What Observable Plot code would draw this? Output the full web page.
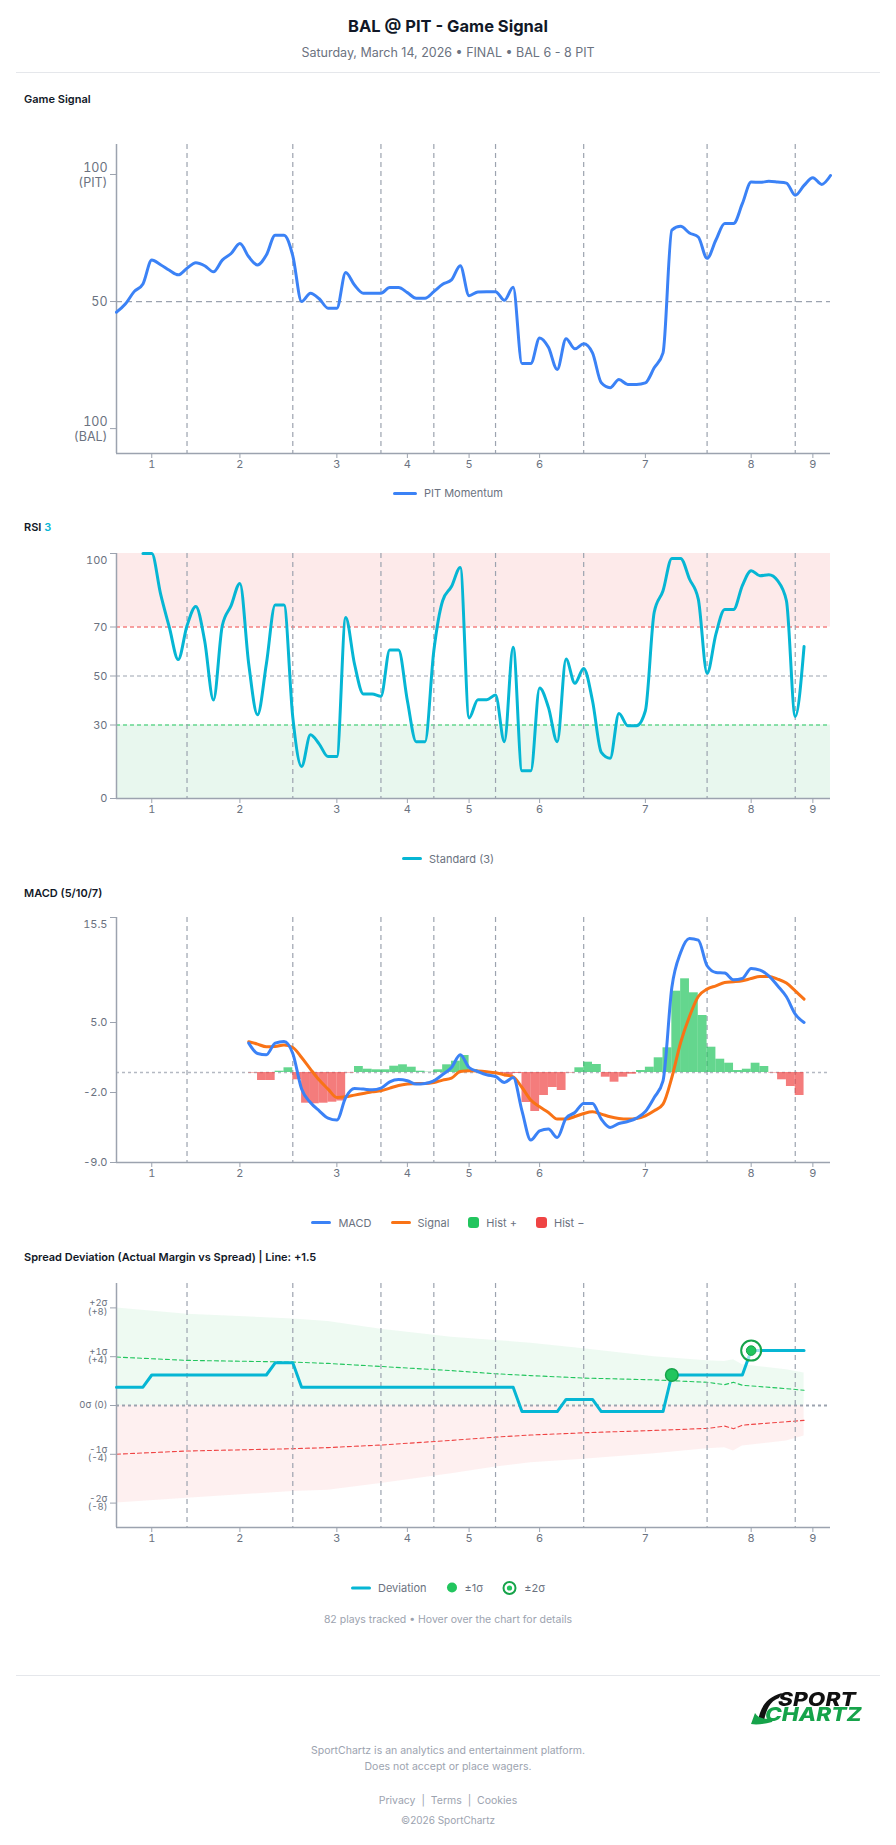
<!DOCTYPE html>
<html><head><meta charset="utf-8">
<script src="https://cdn.jsdelivr.net/npm/d3@7"></script>
<script src="https://cdn.jsdelivr.net/npm/@observablehq/plot@0.6"></script>
<style>
html,body{margin:0;padding:0;background:#fff;}
#page{position:relative;width:896px;height:1845px;overflow:hidden;font-family:Inter,"Open Sans",sans-serif;}
.t{position:absolute;white-space:nowrap;transform:translateY(-50%);}
.legend{position:absolute;left:0;width:896px;display:flex;justify-content:center;align-items:center;gap:19px;font-size:11px;color:#6b7280;transform:translateY(-50%);}
.item{display:flex;align-items:center;gap:7px;}
.sw{display:inline-block;height:3px;border-radius:2px;}
.sq{display:inline-block;width:11px;height:11px;border-radius:3px;}
.logo{position:absolute;white-space:pre;font-style:italic;font-weight:800;font-size:19px;line-height:15px;transform-origin:0 0;
  background:linear-gradient(#111 50%, #16a34a 50%);-webkit-background-clip:text;background-clip:text;color:transparent;-webkit-text-fill-color:transparent;}
</style></head>
<body><div id="page"></div>
<script>
// ---------- data ----------
const title = "BAL @ PIT - Game Signal";
const subtitle = "Saturday, March 14, 2026 \u2022 FINAL \u2022 BAL 6 - 8 PIT";
const innings = ["1","2","3","4","5","6","7","8","9"];
const inningPlays = [4,14,25,33,40,48,60,72,79];
const dividerPlays = [8,20,30,36,43,53,67,77];

const momentum = [45.8,49.0,53.9,56.9,66.3,64.5,62.3,60.5,63.1,65.3,
  64.1,61.7,66.3,68.9,72.8,67.6,64.4,68.3,76.1,76.1,
  68.0,50.0,53.3,51.1,47.4,47.4,61.4,56.5,53.3,53.3,
  53.3,55.5,55.5,53.5,51.3,51.3,53.9,56.8,58.5,64.1,
  52.3,53.8,53.9,53.9,50.5,55.6,25.6,25.6,35.7,32.0,
  23.3,35.4,31.4,33.4,29.8,18.0,16.1,19.3,17.4,17.4,
  18.0,23.9,29.8,78.1,79.6,77.0,75.4,67.0,74.2,80.7,
  80.7,88.5,97.0,96.9,97.3,97.0,96.6,91.8,95.7,98.7,
  96.1,99.6];
const signalTicks = [0,50,100];
const signalTickLabels = ["100\n(BAL)","50","100\n(PIT)"];

const rsi = [null,null,null,100,100,83.5,69.8,56.7,70.5,78.4,
  64.4,40.2,70.5,78.7,87.8,54.9,34.2,54.9,79.0,79.0,
  33.1,13.1,26.0,22.2,17.1,17.1,73.9,54.9,42.7,42.7,
  41.7,60.6,60.6,39.9,23.2,23.2,60.3,80.7,86.5,94.3,
  32.9,40.3,40.3,42.2,23.2,61.7,11.3,11.3,45.1,37.2,
  23.2,56.9,47.0,53.1,39.9,18.8,16.4,34.7,29.7,29.7,
  35.8,76.0,84.8,98.0,98.0,89.6,81.4,51.1,67.1,77.1,
  77.1,86.9,93.0,90.9,91.3,88.9,80.7,33.5,62.0];
const rsiTicks = [0,30,50,70,100];
const rsiTickLabels = ["0","30","50","70","100"];

const macd = [null,null,null,null,null,null,null,null,null,null,
  null,null,null,null,null,2.94,1.9,1.77,2.94,3.1,
  1.9,-1.66,-3.0,-3.83,-4.56,-4.76,-2.5,-1.6,-1.66,-1.73,
  -1.56,-0.93,-0.7,-0.83,-1.16,-1.1,-0.83,-0.2,0.5,1.77,
  0.5,0.1,-0.23,-0.4,-1.0,-0.5,-3.83,-6.76,-5.83,-5.66,
  -6.5,-4.56,-4.0,-3.1,-3.1,-4.66,-5.5,-5.1,-4.9,-4.56,
  -3.9,-2.5,-0.83,8.5,12.0,13.4,13.24,10.67,10.0,9.94,
  9.27,9.4,10.4,10.24,9.67,8.67,7.57,5.84,5.0];
const macdSignal = [null,null,null,null,null,null,null,null,null,null,
  null,null,null,null,null,3.07,2.84,2.57,2.6,2.74,
  2.5,1.5,0.34,-0.76,-1.66,-2.5,-2.43,-2.26,-2.1,-1.93,
  -1.83,-1.56,-1.3,-1.16,-1.1,-1.1,-1.0,-0.76,-0.56,0.1,
  0.17,0.14,0.07,-0.03,-0.23,-0.43,-1.5,-2.76,-3.43,-4.0,
  -4.66,-4.66,-4.4,-4.1,-3.93,-4.16,-4.43,-4.6,-4.66,-4.6,
  -4.33,-3.83,-3.16,-0.5,3.0,5.6,7.6,8.34,8.67,9.0,
  9.07,9.17,9.4,9.6,9.6,9.34,8.94,8.17,7.34];
const macdHist = [null,null,null,null,null,null,null,null,null,null,
  null,null,null,null,null,-0.05,-0.8,-0.8,0.13,0.47,
  -0.73,-3.07,-3.13,-3.07,-2.97,-2.85,-0.05,0.6,0.33,0.27,
  0.27,0.63,0.77,0.53,0.13,0.03,0.27,0.77,1.13,1.7,
  0.3,0.0,-0.05,-0.1,-0.45,-0.1,-3.0,-3.9,-2.3,-1.5,
  -1.8,-0.05,0.47,1.03,0.8,-0.47,-0.97,-0.47,-0.17,0.2,
  0.53,1.47,2.47,8.13,9.37,7.97,5.7,2.53,1.33,0.93,
  0.2,0.33,0.93,0.6,-0.05,-0.73,-1.4,-2.3];
const macdTicks = [-9,-2,5,15.5];
const macdTickLabels = ["-9.0","-2.0","5.0","15.5"];

const deviation = [1.5,1.5,1.5,1.5,2.5,2.5,2.5,2.5,2.5,2.5,
  2.5,2.5,2.5,2.5,2.5,2.5,2.5,2.5,3.5,3.5,
  3.5,1.5,1.5,1.5,1.5,1.5,1.5,1.5,1.5,1.5,
  1.5,1.5,1.5,1.5,1.5,1.5,1.5,1.5,1.5,1.5,
  1.5,1.5,1.5,1.5,1.5,1.5,-0.5,-0.5,-0.5,-0.5,
  -0.5,0.5,0.5,0.5,0.5,-0.5,-0.5,-0.5,-0.5,-0.5,
  -0.5,-0.5,-0.5,2.5,2.5,2.5,2.5,2.5,2.5,2.5,
  2.5,2.5,4.5,4.5,4.5,4.5,4.5,4.5,4.5];
const sigma1Plays = [63];
const sigma2Plays = [72];
const bandPlays = [0,8,20,24,30,38,43,47,53,61,67,69,70,71,76,78];
const upper2 = [8.0,7.48,7.1,6.88,6.25,5.6,5.33,5.11,4.65,4.0,3.67,3.6,3.75,3.35,2.94,2.66];
const lower2 = [-8.0,-7.6,-7.05,-6.94,-6.4,-5.6,-5.04,-4.69,-4.41,-3.95,-3.54,-3.46,-3.73,-3.32,-2.91,-2.5];
const upper1 = [3.97,3.7,3.56,3.45,3.2,2.86,2.6,2.45,2.25,2.1,1.9,1.71,1.9,1.66,1.38,1.25];
const lower1 = [-3.99,-3.73,-3.54,-3.45,-3.24,-2.86,-2.59,-2.42,-2.24,-2.04,-1.88,-1.69,-1.9,-1.61,-1.33,-1.22];
const devTicks = [-8,-4,0,4,8];
const devTickLabels = ["-2\u03c3\n(-8)","-1\u03c3\n(-4)","0\u03c3 (0)","+1\u03c3\n(+4)","+2\u03c3\n(+8)"];
const playsTracked = 82;

// ---------- helpers ----------
const FONT = 'Inter, "Open Sans", sans-serif';
const TXT = "#6b7280", GRID = "#9ca3af", DARK = "#111827";
const BLUE = "#3b82f6", CYAN = "#06b6d4", ORANGE = "#f97316", GREEN = "#22c55e", RED = "#ef4444", DGREEN = "#16a34a";
const page = document.getElementById("page");
const series = arr => arr.map((v, i) => ({play: i, v})).filter(d => d.v != null);

function text(str, top, opts = {}) {
  const el = document.createElement("div");
  el.className = "t";
  el.style.top = top + "px";
  if (opts.center) { el.style.left = "0px"; el.style.width = "896px"; el.style.textAlign = "center"; }
  else el.style.left = (opts.left || 0) + "px";
  el.style.fontSize = (opts.size || 11) + "px";
  el.style.fontWeight = opts.weight || 400;
  el.style.color = opts.color || TXT;
  if (opts.html) el.innerHTML = str; else el.textContent = str;
  page.appendChild(el);
  return el;
}

function legend(items, top) {
  const el = document.createElement("div");
  el.className = "legend";
  el.style.top = top + "px";
  for (const it of items) {
    const d = document.createElement("div");
    d.className = "item";
    let sw;
    if (it.type === "line") { sw = document.createElement("span"); sw.className = "sw"; sw.style.width = (it.w || 20) + "px"; sw.style.background = it.color; }
    else if (it.type === "square") { sw = document.createElement("span"); sw.className = "sq"; sw.style.background = it.color; }
    else if (it.type === "dot") { sw = document.createElementNS("http://www.w3.org/2000/svg", "svg"); sw.setAttribute("width", 12); sw.setAttribute("height", 12); sw.innerHTML = `<circle cx="6" cy="6" r="5" fill="${GREEN}"/>`; }
    else if (it.type === "ring") { sw = document.createElementNS("http://www.w3.org/2000/svg", "svg"); sw.setAttribute("width", 15); sw.setAttribute("height", 15); sw.innerHTML = `<circle cx="7.5" cy="7.5" r="6" fill="#fff" stroke="${DGREEN}" stroke-width="2"/><circle cx="7.5" cy="7.5" r="2.6" fill="${GREEN}"/>`; }
    d.appendChild(sw);
    const s = document.createElement("span"); s.textContent = it.label; d.appendChild(s);
    el.appendChild(d);
  }
  page.appendChild(el);
}

function chart(plotTop, plotH, yDomain, marks) {
  const svg = Plot.plot({
    width: 896, height: plotH + 44,
    marginTop: 14, marginBottom: 30, marginLeft: 116, marginRight: 66,
    x: {domain: [0, 81], label: null},
    y: {domain: yDomain, label: null},
    style: {fontFamily: FONT, fontSize: "11px", color: TXT, background: "transparent", overflow: "visible"},
    marks
  });
  svg.style.position = "absolute";
  svg.style.left = "0px";
  svg.style.top = (plotTop - 14) + "px";
  page.appendChild(svg);
}

const xFmt = d => innings[inningPlays.indexOf(d)];
const dividers = () => Plot.ruleX(dividerPlays, {stroke: GRID, strokeDasharray: "5,4", strokeWidth: 1.2});
function axes(yMin, ticks, labels, {fontSize = 11, lineHeight = 1, offsetTop = null} = {}) {
  const fmt = d => (d === offsetTop ? "" : labels[ticks.indexOf(d)]);
  const m = [
    Plot.ruleX([0], {stroke: GRID, strokeWidth: 1.5}),
    Plot.ruleY([yMin], {stroke: GRID, strokeWidth: 1.5}),
    Plot.axisX({ticks: inningPlays, tickFormat: xFmt, tickSize: 5, tickPadding: 2, fontSize: 11, fill: TXT, stroke: GRID}),
    Plot.axisY({ticks, tickFormat: fmt, tickSize: 6, tickPadding: 3, fontSize, lineHeight, fill: TXT, stroke: GRID})
  ];
  if (offsetTop != null) m.push(Plot.axisY({ticks: [offsetTop], tickFormat: d => labels[ticks.indexOf(d)], tickSize: 0, tickPadding: 9, dy: 7, fontSize, fill: TXT}));
  return m;
}

// ---------- header ----------
text(title, 26, {center: true, size: 16.5, weight: 700, color: DARK});
text(subtitle, 52, {center: true, size: 12.5, color: TXT});
const rule1 = document.createElement("div");
rule1.style.cssText = "position:absolute;left:16px;width:864px;top:72px;height:1px;background:#e5e7eb;";
page.appendChild(rule1);

// ---------- chart 1: Game Signal ----------
text("Game Signal", 99, {left: 24, size: 11, weight: 600, color: DARK});
chart(144, 309, [-9.8, 111.8], [
  Plot.ruleY([50], {stroke: GRID, strokeDasharray: "6,4", strokeWidth: 1.2}),
  dividers(),
  ...axes(-9.8, signalTicks, signalTickLabels, {fontSize: 12.5, lineHeight: 1.2}),
  Plot.line(series(momentum), {x: "play", y: "v", stroke: BLUE, strokeWidth: 3, curve: "monotone-x"})
]);
legend([{type: "line", w: 24, color: BLUE, label: "PIT Momentum"}], 493);

// ---------- chart 2: RSI ----------
text(`RSI <span style="color:${CYAN}">3</span>`, 527, {left: 24, size: 11, weight: 600, color: DARK, html: true});
chart(552.8, 245, [0, 100], [
  Plot.rect([{a: 70, b: 100}], {x1: () => 0, x2: () => 81, y1: "a", y2: "b", fill: "#fdeaea"}),
  Plot.rect([{a: 0, b: 30}], {x1: () => 0, x2: () => 81, y1: "a", y2: "b", fill: "#e8f7ee"}),
  Plot.ruleY([70], {stroke: RED, strokeDasharray: "4,3", strokeWidth: 1.2}),
  Plot.ruleY([50], {stroke: GRID, strokeDasharray: "4,3", strokeWidth: 1.2}),
  Plot.ruleY([30], {stroke: GREEN, strokeDasharray: "4,3", strokeWidth: 1.2}),
  dividers(),
  ...axes(0, rsiTicks, rsiTickLabels, {offsetTop: 100}),
  Plot.line(series(rsi), {x: "play", y: "v", stroke: CYAN, strokeWidth: 3, curve: "monotone-x"})
]);
legend([{type: "line", color: CYAN, label: "Standard (3)"}], 858.7);

// ---------- chart 3: MACD ----------
text("MACD (5/10/7)", 892.7, {left: 24, size: 11, weight: 600, color: DARK});
const histData = series(macdHist);
chart(916.7, 245, [-9, 15.5], [
  Plot.ruleY([0], {stroke: "#b4b9c2", strokeDasharray: "3,3", strokeWidth: 1.5}),
  dividers(),
  Plot.rectY(histData, {x1: "play", x2: d => d.play + 1, y: "v", fill: d => (d.v >= 0 ? GREEN : RED), fillOpacity: 0.7}),
  ...axes(-9, macdTicks, macdTickLabels, {offsetTop: 15.5}),
  Plot.line(series(macdSignal), {x: "play", y: "v", stroke: ORANGE, strokeWidth: 3, curve: "monotone-x"}),
  Plot.line(series(macd), {x: "play", y: "v", stroke: BLUE, strokeWidth: 3, curve: "monotone-x"})
]);
legend([
  {type: "line", color: BLUE, label: "MACD"},
  {type: "line", color: ORANGE, label: "Signal"},
  {type: "square", color: GREEN, label: "Hist +"},
  {type: "square", color: RED, label: "Hist \u2212"}
], 1222.7);

// ---------- chart 4: Spread Deviation ----------
text("Spread Deviation (Actual Margin vs Spread) | Line: +1.5", 1256.7, {left: 24, size: 11, weight: 600, color: DARK});
const band = bandPlays.map((p, i) => ({play: p, u2: upper2[i], l2: lower2[i], u1: upper1[i], l1: lower1[i]}));
const devSeries = series(deviation);
chart(1282.7, 244, [-10, 10], [
  Plot.areaY(band, {x: "play", y1: () => 0, y2: "u2", fill: GREEN, fillOpacity: 0.08}),
  Plot.areaY(band, {x: "play", y1: "l2", y2: () => 0, fill: RED, fillOpacity: 0.08}),
  Plot.line(band, {x: "play", y: "u1", stroke: GREEN, strokeDasharray: "4,3", strokeWidth: 1.1}),
  Plot.line(band, {x: "play", y: "l1", stroke: RED, strokeDasharray: "4,3", strokeWidth: 1.1}),
  Plot.ruleY([0], {stroke: GRID, strokeDasharray: "3,3", strokeWidth: 2}),
  dividers(),
  ...axes(-10, devTicks, devTickLabels, {fontSize: 9.5, lineHeight: 0.85}),
  Plot.line(devSeries, {x: "play", y: "v", stroke: CYAN, strokeWidth: 3}),
  Plot.dot(devSeries.filter(d => sigma1Plays.includes(d.play)), {x: "play", y: "v", r: 6.3, fill: GREEN, stroke: DGREEN, strokeWidth: 1.5}),
  Plot.dot(devSeries.filter(d => sigma2Plays.includes(d.play)), {x: "play", y: "v", r: 10, fill: "#ffffff", fillOpacity: 0.6, stroke: DGREEN, strokeWidth: 2}),
  Plot.dot(devSeries.filter(d => sigma2Plays.includes(d.play)), {x: "play", y: "v", r: 4.8, fill: GREEN, stroke: DGREEN, strokeWidth: 1})
]);
legend([
  {type: "line", color: CYAN, label: "Deviation"},
  {type: "dot", label: "\u00b11\u03c3"},
  {type: "ring", label: "\u00b12\u03c3"}
], 1587.7);
text(`${playsTracked} plays tracked \u2022 Hover over the chart for details`, 1618.7, {center: true, size: 10.5, color: "#9ca3af"});

// ---------- footer ----------
const rule2 = document.createElement("div");
rule2.style.cssText = "position:absolute;left:16px;width:864px;top:1675px;height:1px;background:#e5e7eb;";
page.appendChild(rule2);
const swoosh = document.createElementNS("http://www.w3.org/2000/svg", "svg");
swoosh.setAttribute("width", 40); swoosh.setAttribute("height", 40);
swoosh.style.cssText = "position:absolute;left:748px;top:1688px;";
swoosh.innerHTML = `
  <path d="M10,33 C12,22 16,10 34,5 L31,10 C22,13 18,22 16,33 Z" fill="#111"/>
  <path d="M3,36 L7,25 C10,30 16,32 26,30 L24,34 C16,36 9,37 3,36 Z" fill="${DGREEN}"/>`;
page.appendChild(swoosh);
// logo wordmark as one text block: first line black, second line green
const logo = document.createElement("div");
logo.className = "logo";
logo.textContent = "SPORT\nCHARTZ";
logo.style.left = "765px"; logo.style.top = "1692px";
logo.style.textIndent = "11px";
page.appendChild(logo);
const lw = logo.getBoundingClientRect().width;
logo.style.transform = `scaleX(${97 / lw})`;
text("SportChartz is an analytics and entertainment platform.", 1749.5, {center: true, size: 10.5, color: "#9ca3af"});
text("Does not accept or place wagers.", 1766, {center: true, size: 10.5, color: "#9ca3af"});
text("Privacy &nbsp;|&nbsp; Terms &nbsp;|&nbsp; Cookies", 1800, {center: true, size: 10.5, color: "#9ca3af", html: true});
text("\u00a92026 SportChartz", 1820, {center: true, size: 10, color: "#9ca3af"});
</script></body></html>
